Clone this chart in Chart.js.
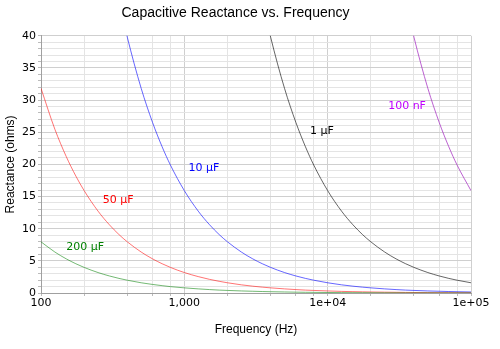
<!DOCTYPE html>
<html>
<head>
<meta charset="utf-8">
<script src="https://cdn.jsdelivr.net/npm/chart.js@4"></script>
<style>
  body { margin: 0; background: #fff; }
  #wrap { width: 500px; height: 349px; }
</style>
</head>
<body>
<div id="wrap"><canvas id="myChart"></canvas></div>
<script>
// frequencies (Hz) read along the x axis
const freqs = [100, 125, 150, 175, 200, 250, 300, 350, 400, 500, 600, 700, 800, 1000,
  1250, 1500, 1750, 2000, 2500, 3000, 3500, 4000, 5000, 6000, 7000, 8000, 10000,
  12500, 15000, 17500, 20000, 25000, 30000, 35000, 40000, 50000, 60000, 70000, 80000, 100000];

// reactance values (ohms), null = off the top
const c200uF = [7.96, 6.37, 5.31, 4.55, 3.98, 3.18, 2.65, 2.27, 1.99, 1.59, 1.33, 1.14, 0.99, 0.80,
  0.64, 0.53, 0.45, 0.40, 0.32, 0.27, 0.23, 0.20, 0.16, 0.13, 0.11, 0.10, 0.08,
  0.06, 0.05, 0.05, 0.04, 0.03, 0.03, 0.02, 0.02, 0.02, 0.01, 0.01, 0.01, 0.01];
const c50uF = [31.83, 25.46, 21.22, 18.19, 15.92, 12.73, 10.61, 9.09, 7.96, 6.37, 5.31, 4.55, 3.98, 3.18,
  2.55, 2.12, 1.82, 1.59, 1.27, 1.06, 0.91, 0.80, 0.64, 0.53, 0.45, 0.40, 0.32,
  0.25, 0.21, 0.18, 0.16, 0.13, 0.11, 0.09, 0.08, 0.06, 0.05, 0.05, 0.04, 0.03];
const c10uF = [null, null, null, null, null, null, null, 45.47, 39.79, 31.83, 26.53, 22.74, 19.89, 15.92,
  12.73, 10.61, 9.09, 7.96, 6.37, 5.31, 4.55, 3.98, 3.18, 2.65, 2.27, 1.99, 1.59,
  1.27, 1.06, 0.91, 0.80, 0.64, 0.53, 0.45, 0.40, 0.32, 0.27, 0.23, 0.20, 0.16];
const c1uF = [null, null, null, null, null, null, null, null, null, null, null, null, null, null,
  null, null, null, null, null, null, 45.47, 39.79, 31.83, 26.53, 22.74, 19.89, 15.92,
  12.73, 10.61, 9.09, 7.96, 6.37, 5.31, 4.55, 3.98, 3.18, 2.65, 2.27, 1.99, 1.59];
const c100nF = [null, null, null, null, null, null, null, null, null, null, null, null, null, null,
  null, null, null, null, null, null, null, null, null, null, null, null, null,
  null, null, null, null, null, null, 45.47, 39.79, 31.83, 26.53, 22.74, 19.89, 15.92];

const seriesNames = ['200 µF', '50 µF', '10 µF', '1 µF', '100 nF'];

// tick positions
const xTicks = [100, 200, 400, 600, 800, 1000, 2000, 4000, 6000, 8000, 10000,
  20000, 40000, 60000, 80000, 100000];
const xTickLabels = { 100: '100', 1000: '1,000', 10000: '1e+04', 100000: '1e+05' };

// where each curve label sits (freq, ohms)
const labelFreq = [203, 345, 1370, 9100, 35800];
const labelVal = [7.1, 14.4, 19.4, 25.1, 29.0];

const lineColors = ['rgba(0,128,0,0.55)', 'rgba(255,0,0,0.55)', 'rgba(0,0,255,0.6)',
  'rgba(0,0,0,0.6)', 'rgba(160,32,190,0.7)'];
const textColors = ['#008000', '#ff0000', '#0000ff', '#000000', '#c000ff'];

const allValues = [c200uF, c50uF, c10uF, c1uF, c100nF];

function toPoints(vals) {
  return freqs.map((f, i) => ({ x: f, y: vals[i] }));
}

// curve labels drawn on the plot
const curveLabels = {
  id: 'curveLabels',
  afterDatasetsDraw(chart) {
    const c = chart.ctx;
    const xs = chart.scales.x, ys = chart.scales.y;
    c.save();
    c.font = '11px "DejaVu Sans"';
    c.textAlign = 'center';
    c.textBaseline = 'middle';
    seriesNames.forEach((name, i) => {
      c.fillStyle = textColors[i];
      c.fillText(name, xs.getPixelForValue(labelFreq[i]), ys.getPixelForValue(labelVal[i]));
    });
    c.restore();
  }
};

const ctx = document.getElementById('myChart');

new Chart(ctx, {
  type: 'line',
  data: {
    datasets: allValues.map((vals, i) => ({
      label: seriesNames[i],
      data: toPoints(vals),
      borderColor: lineColors[i],
      borderWidth: 1,
      pointRadius: 0,
      cubicInterpolationMode: 'monotone',
      spanGaps: false
    }))
  },
  options: {
    responsive: true,
    maintainAspectRatio: false,
    animation: false,
    layout: { padding: { top: 0, right: 29, bottom: 12, left: 0 } },
    plugins: {
      legend: { display: false },
      tooltip: { enabled: false },
      title: {
        display: true,
        text: 'Capacitive Reactance vs. Frequency',
        color: '#000',
        font: { family: 'Liberation Sans', size: 14, weight: 'normal' },
        padding: { top: 5, bottom: 14 }
      }
    },
    scales: {
      x: {
        type: 'logarithmic',
        min: 100,
        max: 100000,
        afterBuildTicks: (scale) => { scale.ticks = xTicks.map(v => ({ value: v })); },
        afterFit: (scale) => { scale.height = 44; },
        ticks: {
          autoSkip: false,
          maxRotation: 0,
          color: '#000',
          padding: 1,
          font: { family: 'DejaVu Sans', size: 11 },
          callback: (v) => xTickLabels[v] || ''
        },
        grid: {
          color: (c) => xTickLabels[c.tick && c.tick.value] ? '#cfcfcf' : '#e4e4e4',
          tickLength: 3,
          tickColor: '#bbb'
        },
        border: { color: '#a0a0a0' },
        title: {
          display: true,
          text: 'Frequency (Hz)',
          color: '#000',
          font: { family: 'Liberation Sans', size: 12 },
          padding: { top: 5, bottom: 0 }
        }
      },
      y: {
        min: 0,
        max: 40,
        afterFit: (scale) => { scale.width = 41; },
        ticks: {
          stepSize: 1,
          autoSkip: false,
          color: '#000',
          padding: 2,
          font: { family: 'DejaVu Sans', size: 11 },
          callback: (v) => v % 5 === 0 ? String(v) : ''
        },
        grid: {
          color: (c) => (c.tick && c.tick.value % 5 === 0) ? '#cfcfcf' : '#e4e4e4',
          tickLength: 3,
          tickColor: '#bbb'
        },
        border: { color: '#a0a0a0' },
        title: {
          display: true,
          text: 'Reactance (ohms)',
          color: '#000',
          font: { family: 'Liberation Sans', size: 12 },
          padding: { top: 3, bottom: 0 }
        }
      }
    }
  },
  plugins: [curveLabels]
});
</script>
</body>
</html>
